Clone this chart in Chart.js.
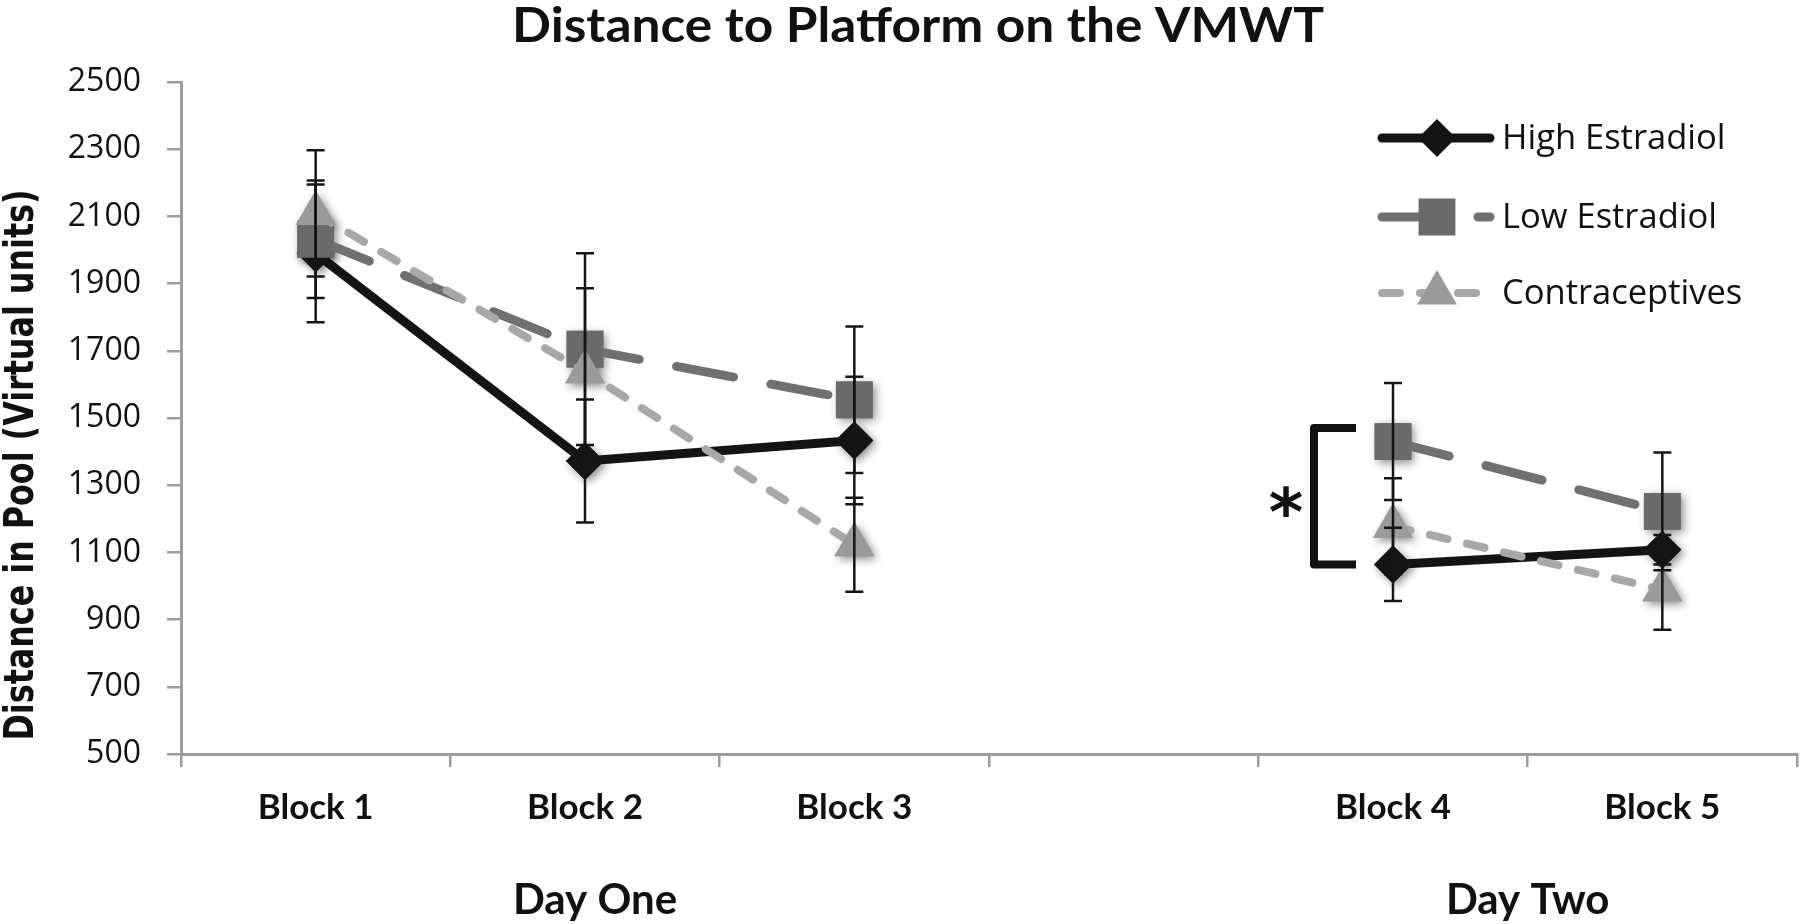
<!DOCTYPE html>
<html><head><meta charset="utf-8">
<script src="https://cdn.jsdelivr.net/npm/chart.js@4.4.0/dist/chart.umd.min.js"></script>
<style>html,body{margin:0;padding:0;background:#fff;}#wrap{width:1800px;height:924px;}</style>
</head><body><div id="wrap"><canvas id="c" width="1800" height="924"></canvas></div>
<script>
// ---- data ----
const categories = ['Block 1', 'Block 2', 'Block 3', '', 'Block 4', 'Block 5'];
const seriesNames = ['High Estradiol', 'Low Estradiol', 'Contraceptives'];
const highValues   = [1990, 1372, 1433, null, 1064, 1108];
const highErrors   = [205, 183, 190, null, 109, 44];
const lowValues    = [2032, 1705, 1554, null, 1430, 1222];
const lowErrors    = [175, 285, 218, null, 174, 175];
const contraValues = [2109, 1638, 1123, null, 1178, 989];
const contraErrors = [188, 248, 140, null, 143, 119];
const yMin = 500, yMax = 2500, yStep = 200;
const dayLabels = ['Day One', 'Day Two'];
const chartTitle = 'Distance to Platform on the VMWT';
const yTitle = 'Distance in Pool (Virtual units)';
const sigBracket = { category: 4, from: 1064, to: 1470, mark: '*' };

const datasets = [
  { label: seriesNames[0], data: highValues, errors: highErrors, order: 3,
    borderColor: '#141414', backgroundColor: '#141414', borderWidth: 9,
    pointStyle: 'rectRot', pointRadius: 19, pointBorderWidth: 0,
    pointBackgroundColor: '#141414', borderCapStyle: 'round', borderJoinStyle: 'round' },
  { label: seriesNames[1], data: lowValues, errors: lowErrors, order: 2,
    borderColor: '#707070', backgroundColor: '#6a6a6a', borderWidth: 9, borderDash: [58, 38],
    pointStyle: 'rect', pointRadius: 26, pointBorderWidth: 0,
    pointBackgroundColor: '#6a6a6a', borderCapStyle: 'round', borderJoinStyle: 'round' },
  { label: seriesNames[2], data: contraValues, errors: contraErrors, order: 1,
    borderColor: '#a8a8a8', backgroundColor: '#999999', borderWidth: 8, borderDash: [18, 20],
    pointStyle: 'triangle', pointRadius: 23, pointBorderWidth: 0,
    pointBackgroundColor: '#9a9a9a', borderCapStyle: 'round', borderJoinStyle: 'round' }
];

function scaledText(ctx, text, x, y, font, targetW, rot) {
  ctx.save();
  ctx.font = font;
  const w = ctx.measureText(text).width;
  ctx.translate(x, y);
  if (rot) ctx.rotate(rot);
  ctx.scale(targetW / w, 1);
  ctx.textAlign = 'center';
  ctx.textBaseline = 'middle';
  ctx.fillStyle = '#111';
  ctx.fillText(text, 0, 0);
  ctx.restore();
}

const decorPlugin = {
  id: 'decor',
  beforeDatasetsDraw(chart) {
    // soft drop shadows under the markers
    const ctx = chart.ctx;
    ctx.save();
    ctx.shadowColor = 'rgba(0,0,0,0.45)';
    ctx.shadowBlur = 9;
    ctx.shadowOffsetX = 3;
    ctx.shadowOffsetY = 3;
    chart.data.datasets.forEach((ds, di) => {
      const meta = chart.getDatasetMeta(di);
      meta.data.forEach((pt, i) => {
        if (ds.data[i] == null) return;
        ctx.fillStyle = ds.pointBackgroundColor;
        Chart.helpers.drawPoint(ctx, { pointStyle: ds.pointStyle, radius: ds.pointRadius, rotation: 0, borderWidth: 0 }, pt.x, pt.y);
      });
    });
    ctx.restore();
  },
  afterDatasetsDraw(chart) {
    const ctx = chart.ctx, xs = chart.scales.x, ys = chart.scales.y;
    // error bars
    ctx.save();
    ctx.strokeStyle = '#151515';
    ctx.lineWidth = 2.5;
    chart.data.datasets.forEach(ds => {
      ds.data.forEach((v, i) => {
        if (v == null) return;
        const e = ds.errors[i];
        const px = xs.getPixelForValue(i);
        const yt = ys.getPixelForValue(v + e), yb = ys.getPixelForValue(v - e);
        ctx.beginPath();
        ctx.moveTo(px, yt); ctx.lineTo(px, yb);
        ctx.moveTo(px - 9, yt); ctx.lineTo(px + 9, yt);
        ctx.moveTo(px - 9, yb); ctx.lineTo(px + 9, yb);
        ctx.stroke();
      });
    });
    ctx.restore();
    // significance bracket
    const bx = xs.getPixelForValue(sigBracket.category);
    const yT = ys.getPixelForValue(sigBracket.to), yB = ys.getPixelForValue(sigBracket.from);
    ctx.save();
    ctx.strokeStyle = '#111'; ctx.lineWidth = 8; ctx.lineJoin = 'round'; ctx.lineCap = 'butt';
    ctx.beginPath();
    ctx.moveTo(bx - 37, yT); ctx.lineTo(bx - 79, yT); ctx.lineTo(bx - 79, yB); ctx.lineTo(bx - 37, yB);
    ctx.stroke();
    ctx.fillStyle = '#111';
    ctx.font = 'bold 66px "DejaVu Sans"';
    ctx.textAlign = 'center'; ctx.textBaseline = 'alphabetic';
    ctx.fillText(sigBracket.mark, bx - 107, (yT + yB) / 2 + 39);
    ctx.restore();
  },
  afterDraw(chart) {
    const ctx = chart.ctx, xs = chart.scales.x;
    // title
    scaledText(ctx, chartTitle, 918, 27, 'bold 47px Lato', 812, 0);
    // y title
    scaledText(ctx, yTitle, 22, 465, 'bold 41px "DejaVu Sans"', 551, -Math.PI / 2);
    // day labels
    ctx.save();
    ctx.fillStyle = '#111';
    ctx.font = 'bold 42px Lato';
    ctx.textAlign = 'center'; ctx.textBaseline = 'middle';
    ctx.fillText(dayLabels[0], xs.getPixelForValue(1) + 10, 900);
    ctx.fillText(dayLabels[1], (xs.getPixelForValue(4) + xs.getPixelForValue(5)) / 2, 900);
    ctx.restore();
    // legend
    const lx0 = 1382, lx1 = 1490, mx = 1437, tx = 1502, rows = [138, 217, 293];
    chart.data.datasets.forEach((ds, k) => {
      const y = rows[k];
      ctx.save();
      ctx.strokeStyle = ds.borderColor; ctx.lineWidth = ds.borderWidth;
      ctx.lineCap = 'round';
      ctx.setLineDash(ds.borderDash || []);
      ctx.beginPath(); ctx.moveTo(lx0, y); ctx.lineTo(lx1, y); ctx.stroke();
      ctx.setLineDash([]);
      ctx.fillStyle = ds.pointBackgroundColor;
      Chart.helpers.drawPoint(ctx, { pointStyle: ds.pointStyle, radius: ds.pointRadius, rotation: 0, borderWidth: 0 }, mx, y);
      ctx.fillStyle = '#111';
      ctx.font = '34.5px "Open Sans"';
      ctx.textAlign = 'left'; ctx.textBaseline = 'middle';
      ctx.fillText(ds.label, tx, y + 1);
      ctx.restore();
    });
  }
};

new Chart(document.getElementById('c'), {
  type: 'line',
  data: { labels: categories, datasets: datasets },
  options: {
    responsive: false, animation: false, events: [],
    layout: { autoPadding: false, padding: { top: 82, right: 3, left: 0, bottom: 0 } },
    plugins: { legend: { display: false }, title: { display: false }, tooltip: { enabled: false } },
    scales: {
      x: {
        type: 'category', offset: true,
        grid: { display: true, offset: true, drawOnChartArea: false, drawTicks: true, tickLength: 13, color: '#9d9d9d', lineWidth: 2.5 },
        border: { display: true, color: '#9d9d9d', width: 3 },
        ticks: { font: { family: 'Lato', weight: 'bold', size: 35 }, color: '#111', padding: 20, maxRotation: 0, autoSkip: false },
        afterFit(s) { s.height = 170; s.paddingLeft = 0; s.paddingRight = 0; }
      },
      y: {
        min: yMin, max: yMax,
        grid: { display: true, drawOnChartArea: false, drawTicks: true, tickLength: 14, color: '#9d9d9d', lineWidth: 2.5 },
        border: { display: true, color: '#9d9d9d', width: 3 },
        ticks: { stepSize: yStep, font: { family: '"Open Sans"', size: 32 }, color: '#111', padding: 26,
                 callback: v => String(v) },
        afterFit(s) { s.width = 181; s.paddingTop = 0; s.paddingBottom = 0; }
      }
    }
  },
  plugins: [decorPlugin]
});
</script></body></html>
